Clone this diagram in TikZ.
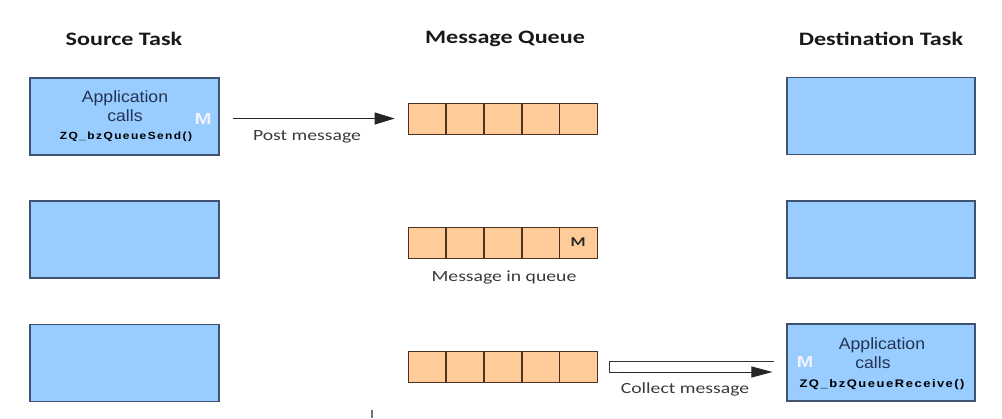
\documentclass[tikz,border=0pt]{standalone}
\usepackage{fontspec}
\usepackage{graphicx}
\usetikzlibrary{arrows.meta,calc}
\newfontfamily\calfont[FakeStretch=1.27]{Carlito}
\newfontfamily\arifont[FakeStretch=1.08]{Liberation Sans}
\newfontfamily\zqfont[LetterSpace=12]{Liberation Sans}
\definecolor{taskfill}{HTML}{99CCFF}
\definecolor{taskdraw}{HTML}{3F5270}
\definecolor{cellfill}{HTML}{FFCC99}
\definecolor{celldraw}{HTML}{4A3420}
\definecolor{boxtext}{HTML}{223355}
\definecolor{labtext}{HTML}{3A3A3A}
\newcommand{\fitwidth}[2]{\resizebox{#1}{\height}{#2}}
\tikzset{
  taskbox/.style={draw=taskdraw,fill=taskfill,line width=1.1pt,minimum width=189pt,minimum height=77pt,inner sep=0pt},
  cellbox/.style={draw=celldraw,fill=cellfill,line width=0.9pt,minimum width=37.8pt,minimum height=31pt,inner sep=0pt},
  title/.style={font=\calfont\bfseries\fontsize{19}{22}\selectfont,text=black!90,inner sep=0pt},
  lab/.style={font=\calfont\fontsize{15.5}{18}\selectfont,text=labtext,inner sep=0pt},
  apptext/.style={font=\arifont\fontsize{16.3}{18}\selectfont,text=boxtext,inner sep=0pt},
  zqtext/.style={font=\zqfont\bfseries\fontsize{#1}{13}\selectfont,text=black,inner sep=0pt},
  mwhite/.style={font=\arifont\bfseries\fontsize{16}{18}\selectfont,text=white!95!blue,inner sep=0pt},
  arrowline/.style={line width=0.9pt,draw=black!85,-{Triangle[length=20pt,width=12pt]}},
}
\begin{document}
\begin{tikzpicture}[x=1pt,y=-1pt]
\useasboundingbox (0,0) rectangle (1002,418);
% titles
\node[title] (tsrc) at (124,39) {Source Task};
\node[title] (tq) at (505,39) {Message Queue};
\node[title] (tdst) at (881,39) {Destination Task};
% source tasks
\node[taskbox] (s1) at (124.5,116.5) {};
\node[taskbox] (s2) at (124.5,239.5) {};
\node[taskbox] (s3) at (124.5,363) {};
% destination tasks
\node[taskbox,minimum width=188pt] (d1) at (881,116) {};
\node[taskbox,minimum width=188pt] (d2) at (881,239.5) {};
\node[taskbox,minimum width=188pt] (d3) at (881,362.5) {};
% queues
\foreach \r/\yy in {1/118.5,2/242.5,3/366.5}{
  \foreach \c/\xx in {1/427,2/465,3/503,4/541,5/578.5}{
    \node[cellbox] (q\r\c) at (\xx,\yy) {};
  }
}
% source 1 text
\node[apptext] (s1a) at (125,98) {Application};
\node[apptext] (s1b) at (125,116) {calls};
\node[zqtext=10.4] (s1c) at (126,137) {\fitwidth{132pt}{ZQ\_bzQueueSend()}};
\node[mwhite] (s1m) at (203,119) {\fitwidth{17pt}{M}};
% dest 3 text
\node[apptext] (d3a) at (882,345) {Application};
\node[apptext] (d3b) at (873,363) {calls};
\node[zqtext=11] (d3c) at (882,385) {\fitwidth{165pt}{ZQ\_bzQueueReceiv\kern1pt e()}};
\node[mwhite] (d3m) at (805,362) {\fitwidth{16.5pt}{M}};
% message in queue
\node[font=\calfont\bfseries\fontsize{13.5}{15}\selectfont,text=black!85,inner sep=0pt] (qm) at (578,242) {M};
% post message arrow
\draw[arrowline] ($(s1.east |- q11.west)+(13,0)$) -- ($(q11.west)+(-13,0)$);
\node[lab] (lpost) at (307,137) {Post message};
\node[lab] (lqueue) at (504,277) {Message in queue};
% collect message arrow
\coordinate (cTopEnd) at ($(d3.west |- q35.east)+(-12,-5.5)$);
\coordinate (cBotEnd) at ($(d3.west |- q35.east)+(-14,5.5)$);
\draw[line width=0.9pt,draw=black!80] (cTopEnd) -- ($(q35.east)+(12,-5.5)$) -- ($(q35.east)+(12,5.5)$) -- ++(10,0);
\draw[arrowline,-{Triangle[length=21pt,width=11pt]}] ($(q35.east)+(21,5.5)$) -- (cBotEnd);
\node[lab] (lcollect) at (685,389) {Collect message};
% stray tick
\draw[line width=1.2pt,draw=black!55] (372,410) -- (372,418);
\end{tikzpicture}
\end{document}
